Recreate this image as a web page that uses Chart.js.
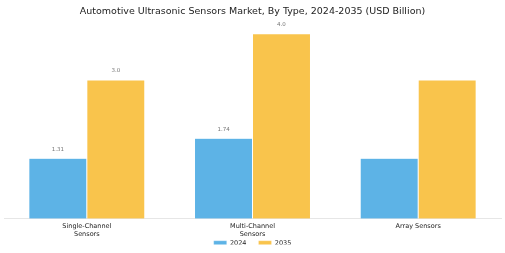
<!DOCTYPE html>
<html>
<head>
<meta charset="utf-8">
<script src="https://cdn.jsdelivr.net/npm/chart.js@4.4.0/dist/chart.umd.min.js"></script>
<style>
  html, body { margin: 0; padding: 0; background: #fff; }
  #wrap { width: 505px; height: 253px; }
</style>
</head>
<body>
<div id="wrap"><canvas id="chart_sensors"></canvas></div>
<script>
var categories = [["Single-Channel", "Sensors"], ["Multi-Channel", "Sensors"], "Array Sensors"];
var values2024 = [1.31, 1.74, 1.31];
var values2035 = [3.0, 4.0, 3.0];
// only some bars carry a value label in the picture
var labels2024 = ["1.31", "1.74", ""];
var labels2035 = ["3.0", "4.0", ""];

var legendPad = 12;

var barLabelPlugin = {
  id: "barLabels",
  afterInit: function(chart) {
    // keep the horizontal gap between legend items, drop the extra vertical room
    var lg = chart.legend;
    var origFit = lg.fit;
    lg.fit = function() {
      origFit.call(this);
      this.height -= legendPad;
    };
  },
  afterLayout: function(chart) {
    chart.legend.top -= legendPad + 2;
    chart.legend.bottom -= legendPad + 2;
  },
  afterDatasetsDraw: function(chart) {
    var ctx = chart.ctx;
    var allLabels = [labels2024, labels2035];
    ctx.save();
    ctx.font = "5.5px 'DejaVu Sans'";
    ctx.fillStyle = "#777";
    ctx.textAlign = "center";
    ctx.textBaseline = "middle";
    chart.data.datasets.forEach(function(ds, i) {
      var meta = chart.getDatasetMeta(i);
      meta.data.forEach(function(bar, j) {
        var txt = allLabels[i][j];
        if (txt) {
          ctx.fillText(txt, bar.x, bar.y - 9);
        }
      });
    });
    ctx.restore();
  }
};

function load() {
  var config = {
    type: "bar",
    data: {
      labels: categories,
      datasets: [{
        label: "2024",
        data: values2024,
        backgroundColor: "rgb(93, 179, 230)",
        borderColor: "rgba(255, 255, 255, 0.5)",
        borderWidth: 0.5
      }, {
        label: "2035",
        data: values2035,
        backgroundColor: "rgb(249, 196, 76)",
        borderColor: "rgba(255, 255, 255, 0.5)",
        borderWidth: 0.5
      }]
    },
    options: {
      responsive: true,
      maintainAspectRatio: false,
      animation: false,
      layout: { padding: { left: 4, right: 4, top: 0, bottom: -5.5 } },
      datasets: {
        bar: { categoryPercentage: 0.7, barPercentage: 1.0 }
      },
      scales: {
        x: {
          grid: { display: false, drawTicks: false, tickLength: 0 },
          border: { display: true, color: "#e6e6e6", width: 1 },
          ticks: {
            color: "#222",
            font: { family: "DejaVu Sans", size: 6.5, lineHeight: 1.25 },
            padding: 3.5,
            maxRotation: 0,
            autoSkip: false
          }
        },
        y: {
          display: false,
          min: 0,
          max: 4.2
        }
      },
      plugins: {
        title: {
          display: true,
          text: "Automotive Ultrasonic Sensors Market, By Type, 2024-2035 (USD Billion)",
          color: "#222",
          font: { family: "DejaVu Sans", size: 9.5, weight: "normal" },
          padding: { top: 6, bottom: 7 }
        },
        legend: {
          position: "bottom",
          labels: {
            color: "#222",
            font: { family: "DejaVu Sans", size: 6.5 },
            boxWidth: 13,
            boxHeight: 5,
            padding: legendPad
          }
        },
        tooltip: { enabled: false }
      }
    },
    plugins: [barLabelPlugin]
  };

  new Chart(document.getElementById("chart_sensors").getContext("2d"), config);
}

document.addEventListener("DOMContentLoaded", load, false);
</script>
</body>
</html>
